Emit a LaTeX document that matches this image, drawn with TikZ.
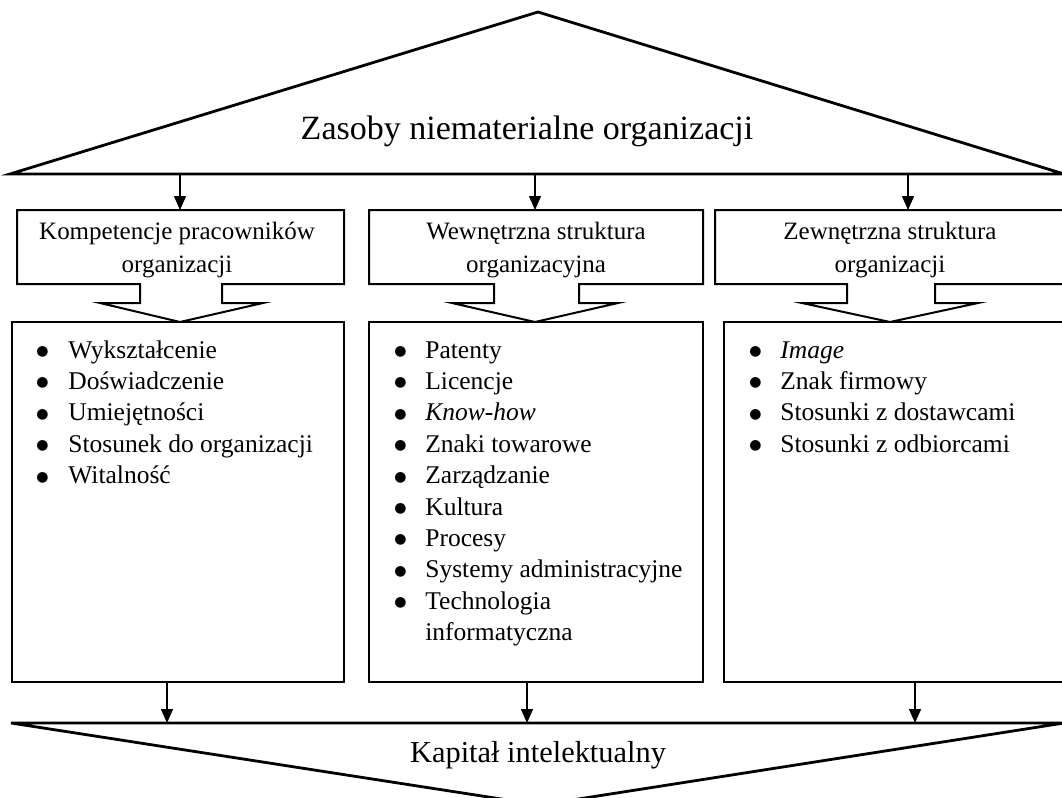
\documentclass[tikz,border=0pt]{standalone}
\usepackage{fontspec}
\setmainfont{Liberation Serif}
\newfontfamily\dejavu{DejaVu Sans}
\usetikzlibrary{arrows.meta, positioning, fit}

\newcommand{\kropka}{\raisebox{1.3pt}{\fontsize{7}{8}\dejavu ●}}

\begin{document}
\begin{tikzpicture}[
    x=0.5pt, y=-0.5pt,
    roof/.style={draw, line width=1.4pt},
    frame/.style={draw, line width=1pt},
    listbox/.style={draw, line width=1pt, inner sep=0pt},
    arr/.style={-{Triangle[length=7pt, width=6pt]}, line width=0.7pt},
    hdr/.style={anchor=base, inner sep=0pt, font=\fontsize{12.5}{16.5}\selectfont},
    items/.style={anchor=base west, inner sep=0pt, font=\fontsize{12.75}{15.7}\selectfont}
]
    \useasboundingbox (0,0) rectangle (1062,798);

    % zasoby (gora)
    \draw[roof] (10,174) -- (538,12) -- (1064,174) -- cycle;
    \node[anchor=base, font=\fontsize{17}{20}\selectfont] (zasoby) at (527,139) {Zasoby niematerialne organizacji};

    % naglowki
    \draw[frame] (17,210) -- (344,210) -- (344,284) -- (222,284) -- (222,303) -- (263,303) -- (180,322)
        -- (100,303) -- (140,303) -- (140,284) -- (17,284) -- cycle;
    \draw[frame] (369,210) -- (703,210) -- (703,284) -- (579,284) -- (579,303) -- (618,303) -- (535,322)
        -- (452,303) -- (494,303) -- (494,284) -- (369,284) -- cycle;
    \draw[frame] (715,210) -- (1070,210) -- (1070,284) -- (935,284) -- (935,303) -- (978,303) -- (890,322)
        -- (802,303) -- (847,303) -- (847,284) -- (715,284) -- cycle;

    \node[hdr] (kompetencje) at (177,239) {\begin{tabular}[t]{@{}c@{}}Kompetencje pracowników\\organizacji\end{tabular}};
    \node[hdr] (wewn) at (536,239) {\begin{tabular}[t]{@{}c@{}}Wewnętrzna struktura\\organizacyjna\end{tabular}};
    \node[hdr] (zewn) at (890,239) {\begin{tabular}[t]{@{}c@{}}Zewnętrzna struktura\\organizacji\end{tabular}};

    % listy
    \node[listbox, fit={(12,322) (344,682)}] (l1) {};
    \node[listbox, fit={(369,322) (703,682)}] (l2) {};
    \node[listbox, fit={(724,322) (1070,682)}] (l3) {};

    \node[items] (lista1) at (36,358) {\begin{tabular}[t]{@{}p{16pt}@{}l@{}}
        \kropka & Wykształcenie\\
        \kropka & Doświadczenie\\
        \kropka & Umiejętności\\
        \kropka & Stosunek do organizacji\\
        \kropka & Witalność
    \end{tabular}};
    \node[items] (lista2) at (394,358) {\begin{tabular}[t]{@{}p{15.5pt}@{}l@{}}
        \kropka & Patenty\\
        \kropka & Licencje\\
        \kropka & \textit{Know-how}\\
        \kropka & Znaki towarowe\\
        \kropka & Zarządzanie\\
        \kropka & Kultura\\
        \kropka & Procesy\\
        \kropka & Systemy administracyjne\\
        \kropka & Technologia\\
                & informatyczna
    \end{tabular}};
    \node[items] (lista3) at (749,358) {\begin{tabular}[t]{@{}p{15.5pt}@{}l@{}}
        \kropka & \textit{Image}\\
        \kropka & Znak firmowy\\
        \kropka & Stosunki z dostawcami\\
        \kropka & Stosunki z odbiorcami
    \end{tabular}};

    % kapital (dol)
    \draw[roof] (11,723) -- (1064,723) -- (540,805) -- cycle;
    \node[anchor=base, font=\fontsize{15.2}{18}\selectfont] (kapital) at (538,762) {Kapitał intelektualny};

    % strzalki
    \coordinate (t1) at (180,174);
    \coordinate (t2) at (535,174);
    \coordinate (t3) at (908,174);
    \coordinate (h1) at (180,210);
    \coordinate (h2) at (535,210);
    \coordinate (h3) at (908,210);
    \draw[arr] (t1) -- (h1);
    \draw[arr] (t2) -- (h2);
    \draw[arr] (t3) -- (h3);

    \coordinate (b1) at (167,723);
    \coordinate (b2) at (527,723);
    \coordinate (b3) at (915,723);
    \draw[arr] (b1 |- l1.south) -- (b1);
    \draw[arr] (b2 |- l2.south) -- (b2);
    \draw[arr] (b3 |- l3.south) -- (b3);
\end{tikzpicture}
\end{document}
